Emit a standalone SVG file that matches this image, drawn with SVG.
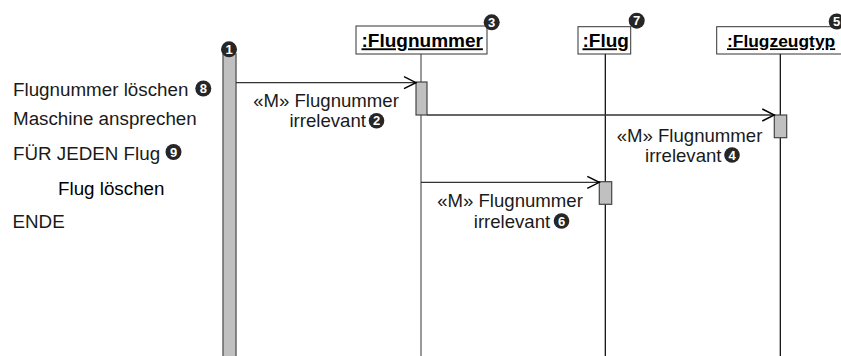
<svg xmlns="http://www.w3.org/2000/svg" width="841" height="356" viewBox="0 0 841 356">
<style>
  text { font-family: "Liberation Sans", Arial, sans-serif; fill: #1a1a1a; }
  .t { font-size: 18.8px; }
  .lbl { font-size: 18.6px; text-anchor: middle; }
  .hdr { font-size: 19px; font-weight: bold; text-decoration: underline; fill: #000; }
  .box { fill: #fff; stroke: #333; stroke-width: 1; }
  .act { fill: #c0c0c0; stroke: #444; stroke-width: 1.2; }
  .life { stroke: #000; stroke-width: 1.2; fill: none; }
  .msg { stroke: #333; stroke-width: 1.3; fill: none; marker-end: url(#open); }
  .num circle { fill: #262626; }
  .num text { fill: #fff; font-size: 13px; font-weight: bold; text-anchor: middle; }
</style>
<defs>
  <marker id="open" markerUnits="userSpaceOnUse" markerWidth="16" markerHeight="16" refX="13" refY="7" orient="auto">
    <path d="M1,1 L13,7 L1,13" fill="none" stroke="#000" stroke-width="1.4"/>
  </marker>
</defs>

<g id="steps">
  <text class="t" x="13" y="95.7">Flugnummer löschen</text>
  <text class="t" x="13" y="125">Maschine ansprechen</text>
  <text class="t" x="13" y="160">FÜR JEDEN Flug</text>
  <text class="t" x="58" y="195" style="fill:#000">Flug löschen</text>
  <text class="t" x="12.5" y="228.3">ENDE</text>
  <g class="num"><circle cx="203.3" cy="88.5" r="8"/><text x="203.3" y="93.1">8</text></g>
  <g class="num"><circle cx="173.5" cy="152" r="8"/><text x="173.5" y="156.6">9</text></g>
</g>

<g id="actor">
  <rect class="act" x="223" y="54" width="13" height="310" style="stroke:#666;stroke-width:1.5"/>
  <g class="num"><circle cx="229" cy="49.3" r="8"/><text x="229" y="53.9">1</text></g>
</g>

<g id="flugnummer">
  <line class="life" x1="421" y1="54" x2="421" y2="356" style="stroke:#777;stroke-width:1.5"/>
  <rect class="box" x="356" y="26" width="131" height="28"/>
  <text class="hdr" x="361.5" y="47.3">:Flugnummer</text>
  <rect class="act" x="416" y="82" width="11" height="33"/>
  <g class="num"><circle cx="491.7" cy="22.3" r="8"/><text x="491.7" y="26.9">3</text></g>
</g>

<g id="flug">
  <line class="life" x1="605.3" y1="54" x2="605.3" y2="356"/>
  <rect class="box" x="578" y="26.7" width="52.7" height="27.3"/>
  <text class="hdr" x="582.5" y="47.3">:Flug</text>
  <rect class="act" x="599.3" y="181.7" width="12.4" height="22.6"/>
  <g class="num"><circle cx="636.7" cy="20.7" r="8"/><text x="636.7" y="25.3">7</text></g>
</g>

<g id="flugzeugtyp">
  <line class="life" x1="780.3" y1="54" x2="780.3" y2="356"/>
  <rect class="box" x="716.7" y="26.7" width="140" height="27.3"/>
  <text class="hdr" x="727" y="47.3" style="font-size:17.4px">:Flugzeugtyp</text>
  <rect class="act" x="774.3" y="115" width="12.4" height="22.7"/>
  <g class="num"><circle cx="836.7" cy="21.5" r="8"/><text x="836.7" y="26.1">5</text></g>
</g>

<g id="connectors">
  <line class="msg" x1="236" y1="82.7" x2="416" y2="82.7"/>
  <line class="msg" x1="427" y1="115" x2="774.3" y2="115"/>
  <line class="msg" x1="421" y1="182.3" x2="599.3" y2="182.3"/>
</g>

<g id="labels">
  <text class="lbl" x="326" y="106.7">«M» Flugnummer</text>
  <text class="lbl" x="327.7" y="126.7">irrelevant</text>
  <g class="num"><circle cx="376.5" cy="120.7" r="7.8"/><text x="376.5" y="125.3">2</text></g>

  <text class="lbl" x="689.5" y="142.3">«M» Flugnummer</text>
  <text class="lbl" x="683.3" y="162.3">irrelevant</text>
  <g class="num"><circle cx="732" cy="155" r="7.8"/><text x="732" y="159.6">4</text></g>

  <text class="lbl" x="510" y="206.7">«M» Flugnummer</text>
  <text class="lbl" x="512" y="228">irrelevant</text>
  <g class="num"><circle cx="561.5" cy="221" r="7.8"/><text x="561.5" y="225.6">6</text></g>
</g>
</svg>
